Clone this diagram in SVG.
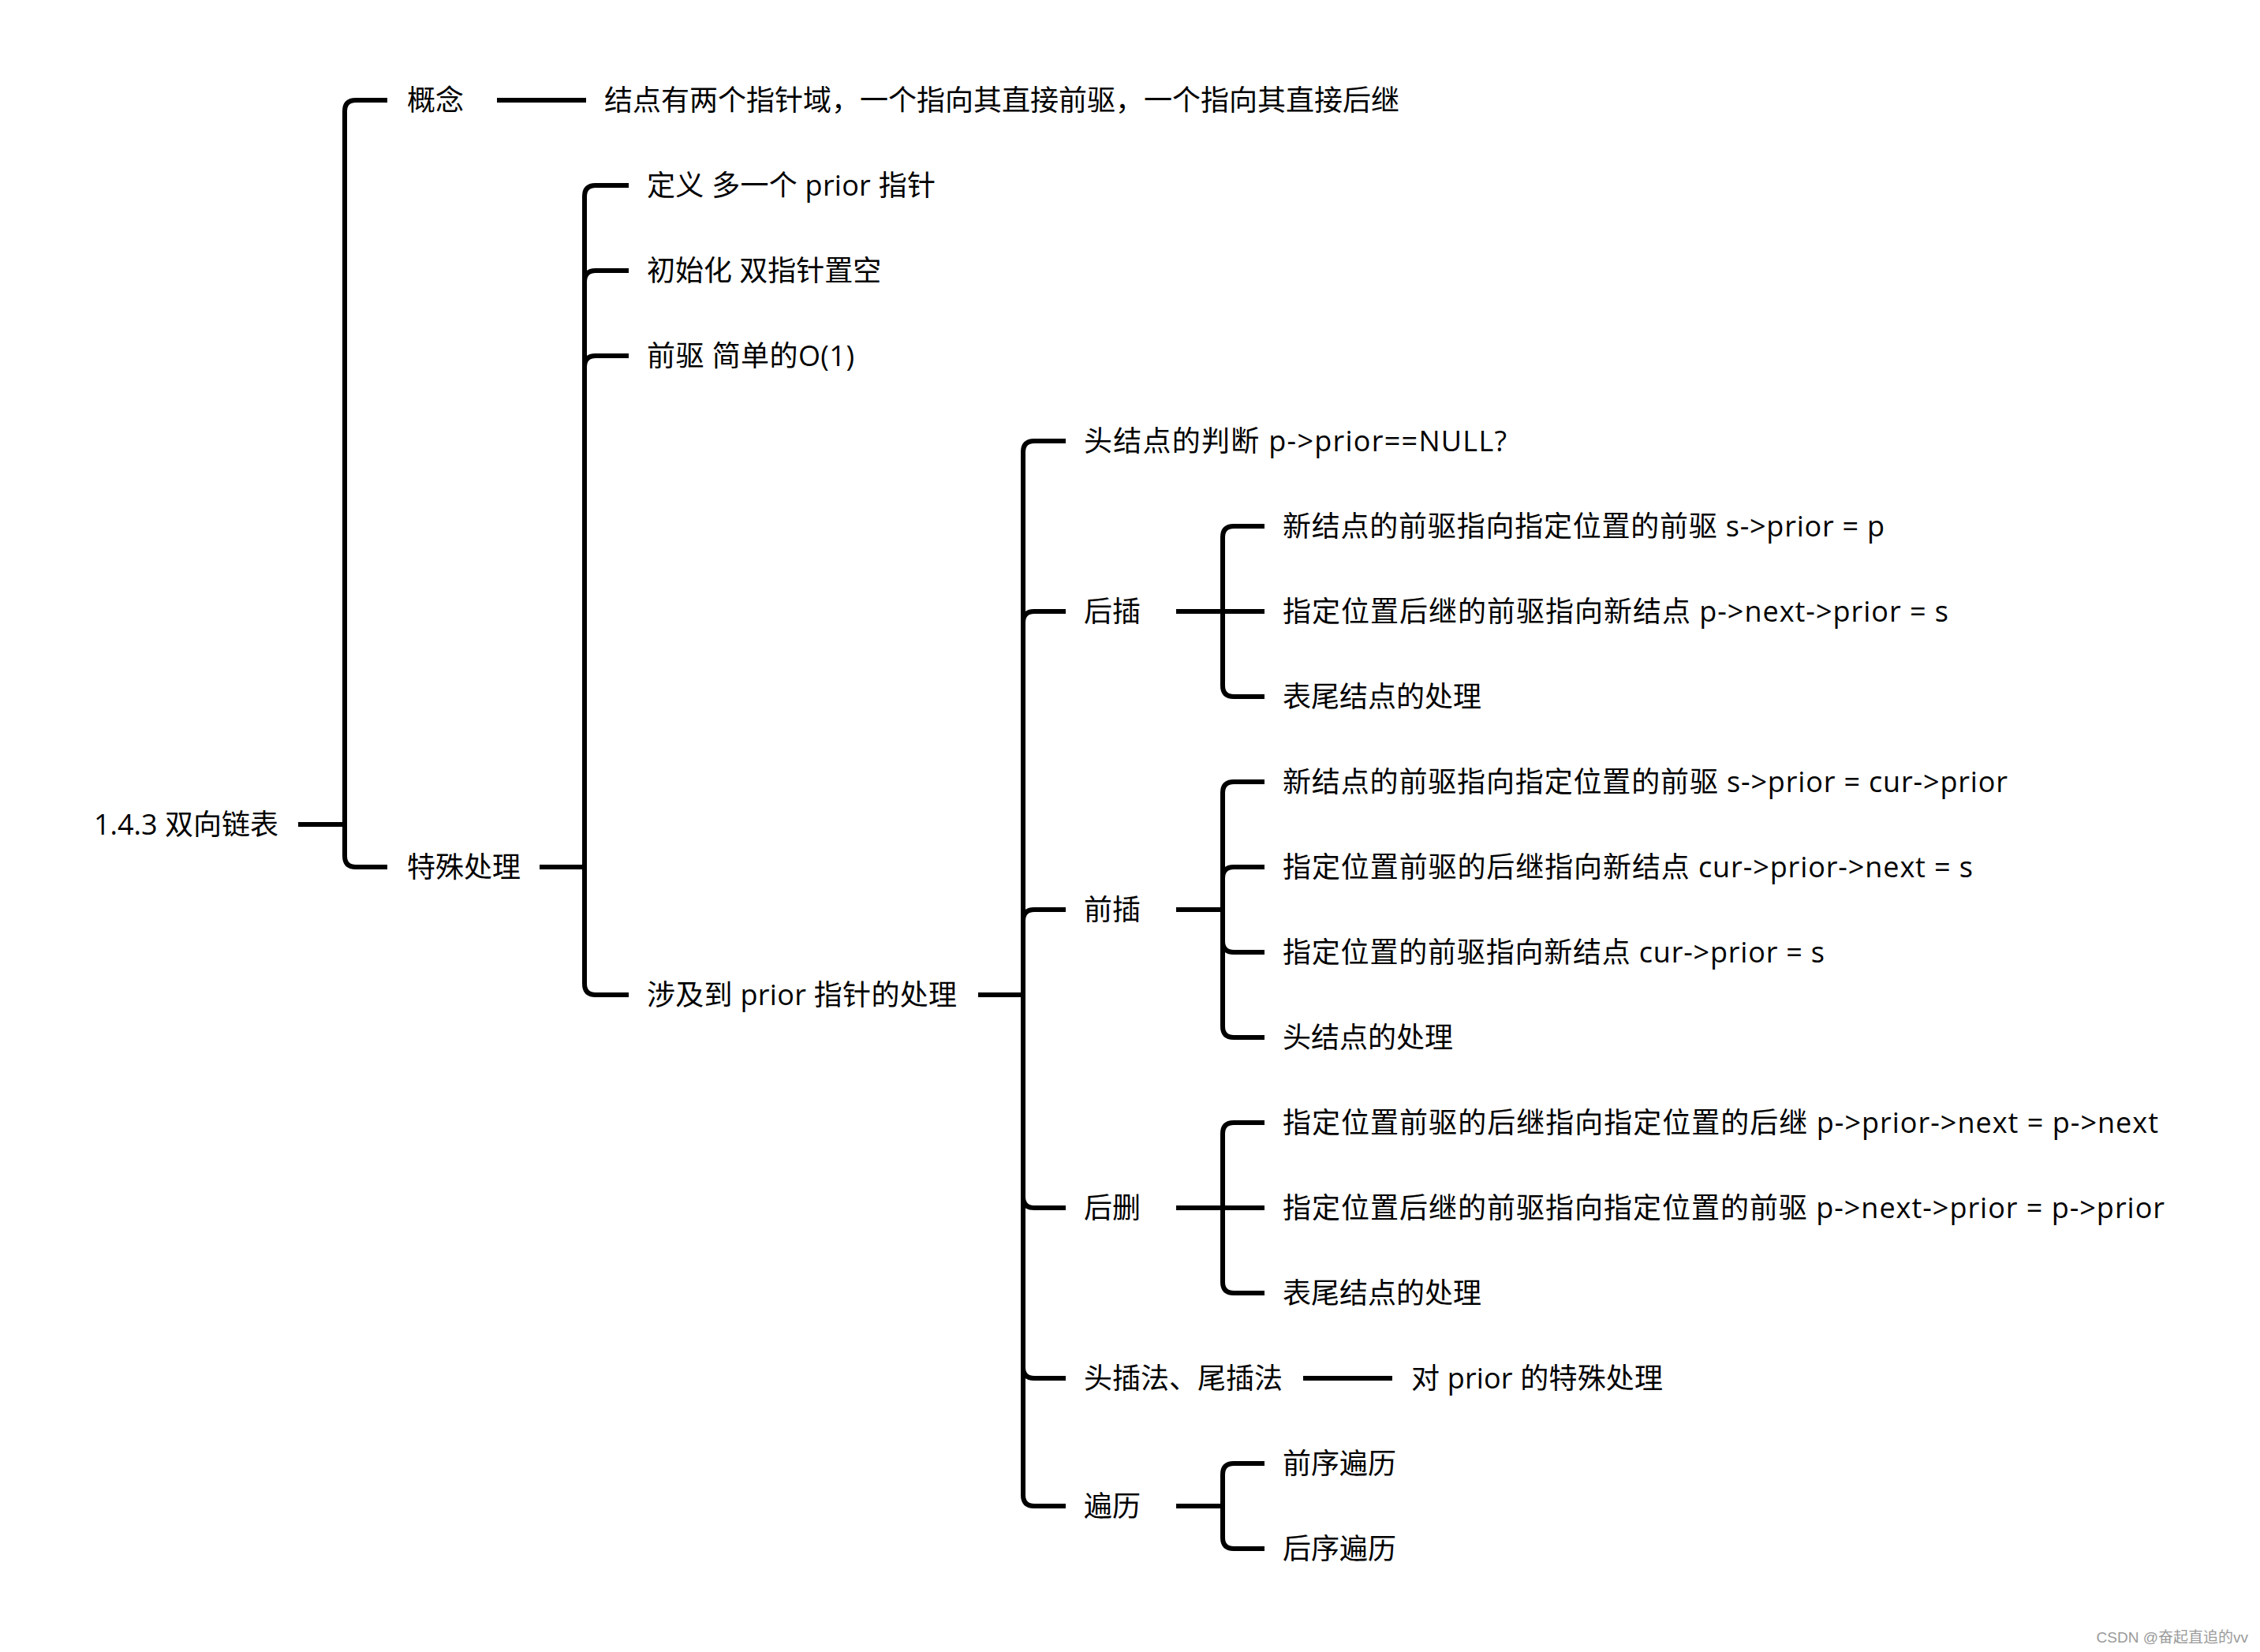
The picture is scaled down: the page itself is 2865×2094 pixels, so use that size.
<svg xmlns="http://www.w3.org/2000/svg" width="2865" height="2094" viewBox="0 0 2865 2094">
<style>
.t{font-family:"Open Sans","Noto Sans CJK SC",sans-serif;font-size:36px;fill:#000;dominant-baseline:central}
.c{fill:none;stroke:#000;stroke-width:6;stroke-linecap:butt;stroke-linejoin:round}
.wm{font-family:"Liberation Sans","Noto Sans CJK SC",sans-serif;font-size:19px;fill:#9a9a9a;text-anchor:end;dominant-baseline:central}
</style>
<rect width="2865" height="2094" fill="#fff"/>
<g id="connectors">
<path class="c" d="M378,1045 H437"/>
<path class="c" d="M437,1045 V141 Q437,127 451,127 H491"/>
<path class="c" d="M437,1045 V1085 Q437,1099 451,1099 H491"/>
<path class="c" d="M630,127 H743"/>
<path class="c" d="M684,1099 H741"/>
<path class="c" d="M741,1099 V249 Q741,235 755,235 H797"/>
<path class="c" d="M741,1099 V357 Q741,343 755,343 H797"/>
<path class="c" d="M741,1099 V465 Q741,451 755,451 H797"/>
<path class="c" d="M741,1099 V1247 Q741,1261 755,1261 H797"/>
<path class="c" d="M1240,1261 H1297"/>
<path class="c" d="M1297,1261 V573 Q1297,559 1311,559 H1351"/>
<path class="c" d="M1297,1261 V789 Q1297,775 1311,775 H1351"/>
<path class="c" d="M1297,1261 V1167 Q1297,1153 1311,1153 H1351"/>
<path class="c" d="M1297,1261 V1517 Q1297,1531 1311,1531 H1351"/>
<path class="c" d="M1297,1261 V1733 Q1297,1747 1311,1747 H1351"/>
<path class="c" d="M1297,1261 V1895 Q1297,1909 1311,1909 H1351"/>
<path class="c" d="M1491,775 H1550"/>
<path class="c" d="M1550,775 V681 Q1550,667 1564,667 H1603"/>
<path class="c" d="M1550,775 H1603"/>
<path class="c" d="M1550,775 V869 Q1550,883 1564,883 H1603"/>
<path class="c" d="M1491,1153 H1550"/>
<path class="c" d="M1550,1153 V1005 Q1550,991 1564,991 H1603"/>
<path class="c" d="M1550,1153 V1113 Q1550,1099 1564,1099 H1603"/>
<path class="c" d="M1550,1153 V1193 Q1550,1207 1564,1207 H1603"/>
<path class="c" d="M1550,1153 V1301 Q1550,1315 1564,1315 H1603"/>
<path class="c" d="M1491,1531 H1550"/>
<path class="c" d="M1550,1531 V1437 Q1550,1423 1564,1423 H1603"/>
<path class="c" d="M1550,1531 H1603"/>
<path class="c" d="M1550,1531 V1625 Q1550,1639 1564,1639 H1603"/>
<path class="c" d="M1652,1747 H1765"/>
<path class="c" d="M1491,1909 H1550"/>
<path class="c" d="M1550,1909 V1869 Q1550,1855 1564,1855 H1603"/>
<path class="c" d="M1550,1909 V1949 Q1550,1963 1564,1963 H1603"/>
</g>
<g id="root"><text class="t" x="119" y="1044" textLength="234" lengthAdjust="spacing">1.4.3 双向链表</text></g>
<g id="n-gainian"><text class="t" x="516" y="126">概念</text></g>
<g id="n-gainian-leaf"><text class="t" x="766" y="126">结点有两个指针域，一个指向其直接前驱，一个指向其直接后继</text></g>
<g id="n-teshu"><text class="t" x="516" y="1098">特殊处理</text></g>
<g id="n-dingyi"><text class="t" x="820" y="234" textLength="366" lengthAdjust="spacing">定义 多一个 prior 指针</text></g>
<g id="n-chushihua"><text class="t" x="820" y="342">初始化 双指针置空</text></g>
<g id="n-qianqu"><text class="t" x="820" y="450" textLength="263" lengthAdjust="spacing">前驱 简单的O(1)</text></g>
<g id="n-sheji"><text class="t" x="820" y="1260" textLength="393" lengthAdjust="spacing">涉及到 prior 指针的处理</text></g>
<g id="n-toujiedian"><text class="t" x="1374" y="558" textLength="536" lengthAdjust="spacing">头结点的判断 p-&gt;prior==NULL?</text></g>
<g id="n-houcha"><text class="t" x="1374" y="774">后插</text></g>
<g id="n-houcha-1"><text class="t" x="1626" y="666" textLength="763" lengthAdjust="spacing">新结点的前驱指向指定位置的前驱 s-&gt;prior = p</text></g>
<g id="n-houcha-2"><text class="t" x="1626" y="774" textLength="844" lengthAdjust="spacing">指定位置后继的前驱指向新结点 p-&gt;next-&gt;prior = s</text></g>
<g id="n-houcha-3"><text class="t" x="1626" y="882">表尾结点的处理</text></g>
<g id="n-qiancha"><text class="t" x="1374" y="1152">前插</text></g>
<g id="n-qiancha-1"><text class="t" x="1626" y="990" textLength="919" lengthAdjust="spacing">新结点的前驱指向指定位置的前驱 s-&gt;prior = cur-&gt;prior</text></g>
<g id="n-qiancha-2"><text class="t" x="1626" y="1098" textLength="875" lengthAdjust="spacing">指定位置前驱的后继指向新结点 cur-&gt;prior-&gt;next = s</text></g>
<g id="n-qiancha-3"><text class="t" x="1626" y="1206" textLength="687" lengthAdjust="spacing">指定位置的前驱指向新结点 cur-&gt;prior = s</text></g>
<g id="n-qiancha-4"><text class="t" x="1626" y="1314">头结点的处理</text></g>
<g id="n-houshan"><text class="t" x="1374" y="1530">后删</text></g>
<g id="n-houshan-1"><text class="t" x="1626" y="1422" textLength="1110" lengthAdjust="spacing">指定位置前驱的后继指向指定位置的后继 p-&gt;prior-&gt;next = p-&gt;next</text></g>
<g id="n-houshan-2"><text class="t" x="1626" y="1530" textLength="1118" lengthAdjust="spacing">指定位置后继的前驱指向指定位置的前驱 p-&gt;next-&gt;prior = p-&gt;prior</text></g>
<g id="n-houshan-3"><text class="t" x="1626" y="1638">表尾结点的处理</text></g>
<g id="n-toucha"><text class="t" x="1374" y="1746">头插法、尾插法</text></g>
<g id="n-toucha-leaf"><text class="t" x="1789" y="1746" textLength="319" lengthAdjust="spacing">对 prior 的特殊处理</text></g>
<g id="n-bianli"><text class="t" x="1374" y="1908">遍历</text></g>
<g id="n-bianli-1"><text class="t" x="1626" y="1854">前序遍历</text></g>
<g id="n-bianli-2"><text class="t" x="1626" y="1962">后序遍历</text></g>
<text class="wm" x="2850" y="2075">CSDN @奋起直追的vv</text>
</svg>
